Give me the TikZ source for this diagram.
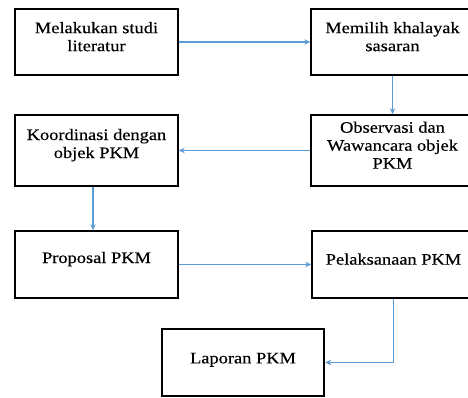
\documentclass[tikz,border=0pt]{standalone}
\usepackage{fontspec}
\setmainfont{Liberation Serif}[FakeStretch=1.15,FakeBold=0.4]
\usepackage{tikz}
\usetikzlibrary{arrows.meta,positioning,calc}
\definecolor{flowblue}{RGB}{91,155,213}
\tikzset{% 
  process box/.style={%
    draw,
    line width=1.3pt,
    minimum width=122pt,
    minimum height=50pt,
    inner sep=0pt
  }
}
\tikzset{% 
  box text/.style={%
    align=center,
    font=\fontsize{12}{13.5}\selectfont,
    yshift=4pt
  }
}
\tikzset{% 
  flow arrow/.style={%
    draw=flowblue,
    line width=1.1pt,
    >={Stealth[length=4.5pt,width=4pt]},
    ->
  }
}

\begin{document}
\begin{tikzpicture}[x=0.75pt,y=-0.75pt]
  \path [use as bounding box,clip] (0,0) rectangle (468,398);
  \node [process box,label={[box text]center:{Melakukan studi\\literatur}}] (studi) at (96.5, 42) {};
  \node [process box,label={[box text]center:{Memilih khalayak\\sasaran}}] (khalayak) at (392.5, 42) {};
  \node [process box,minimum height=53pt,label={[box text]center:{Observasi dan\\Wawancara objek\\PKM}}] (observasi) at (392.5, 150.5) {};
  \node [process box,minimum height=53pt,label={[box text]center:{Koordinasi dengan\\objek PKM}}] (koordinasi) at (96.5, 150.5) {};
  \node [process box,label={[box text]center:{Proposal PKM}}] (proposal) at (96.5, 264.5) {};
  \node [process box,label={[box text]center:{Pelaksanaan PKM}}] (pelaksanaan) at (393.5, 264.5) {};
  \node [process box,label={[box text,yshift=-2pt]center:{Laporan PKM}}] (laporan) at (243, 362.5) {};
  \draw [flow arrow] (studi) -- (khalayak);
  \draw [flow arrow] (khalayak) -- (observasi);
  \draw [flow arrow] (observasi) -- (koordinasi);
  \draw [flow arrow] (koordinasi.south -| 93,0) -- (proposal.north -| 93,0);
  \draw [flow arrow] (proposal) -- (pelaksanaan);
  \draw [flow arrow] (pelaksanaan.south) |- (laporan.east);
\end{tikzpicture}
\end{document}
